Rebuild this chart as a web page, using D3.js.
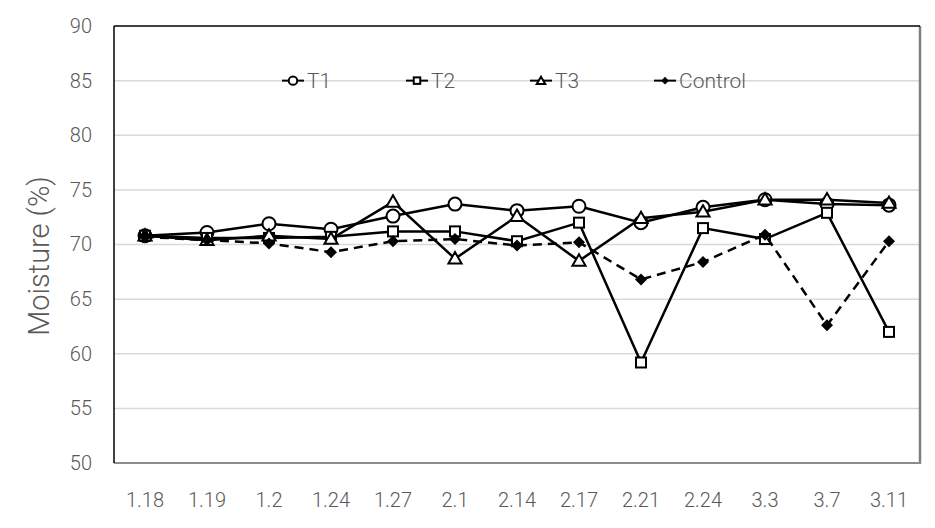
<!DOCTYPE html>
<html><head><meta charset="utf-8">
<script src="https://cdn.jsdelivr.net/npm/d3@7"></script>
<style>body{margin:0;background:#fff}svg text{font-family:Roboto,"Noto Sans",sans-serif;font-weight:300;fill:#595959}</style>
</head><body><svg id="c" width="935" height="528"></svg>
<script>
const categories=["1.18","1.19","1.2","1.24","1.27","2.1","2.14","2.17","2.21","2.24","3.3","3.7","3.11"];
const T1=[70.8,71.1,71.9,71.4,72.6,73.7,73.1,73.5,72.0,73.4,74.1,73.7,73.6];
const T2=[70.8,70.6,70.6,70.7,71.2,71.2,70.3,72.0,59.2,71.5,70.5,72.9,62.0];
const T3=[70.8,70.4,70.8,70.5,73.9,68.7,72.6,68.5,72.4,73.0,74.1,74.1,73.8];
const Control=[70.7,70.4,70.1,69.3,70.3,70.5,69.9,70.2,66.8,68.4,70.9,62.6,70.3];
const yTicks=[50,55,60,65,70,75,80,85,90];
const seriesNames=["T1","T2","T3","Control"];
const seriesData=[T1,T2,T3,Control];

const svg=d3.select("#c");
const L=114,R=920,T=26,B=463;
const x=d3.scaleBand().domain(categories).range([L,R]);
const xc=c=>x(c)+x.bandwidth()/2;
const y=d3.scaleLinear().domain([50,90]).range([B,T]);

svg.append("g").selectAll("line").data(yTicks.filter(t=>t>50&&t<90)).join("line")
 .attr("x1",L).attr("x2",R).attr("y1",d=>y(d)).attr("y2",d=>y(d))
 .attr("stroke","#d9d9d9").attr("stroke-width",1.5);
svg.append("line").attr("x1",R).attr("x2",R).attr("y1",T).attr("y2",B+1).attr("stroke","#7f7f7f").attr("stroke-width",2.5);
svg.append("line").attr("x1",L).attr("x2",R+1).attr("y1",B).attr("y2",B).attr("stroke","#8c8c8c").attr("stroke-width",2);
svg.append("line").attr("x1",L).attr("x2",R).attr("y1",T).attr("y2",T).attr("stroke","#000").attr("stroke-width",1.5);
svg.append("line").attr("x1",L).attr("x2",L).attr("y1",T).attr("y2",B).attr("stroke","#000").attr("stroke-width",1.5);

const ya=svg.append("g").attr("transform",`translate(${L},0)`).call(d3.axisLeft(y).tickValues(yTicks).tickSize(0).tickPadding(22));
ya.select(".domain").remove();
ya.selectAll("text").style("font-size","20px").style("font-family","Roboto").attr("fill","#595959");
const xa=svg.append("g").attr("transform",`translate(0,${B})`).call(d3.axisBottom(x).tickSize(0).tickPadding(30));
xa.select(".domain").remove();
xa.selectAll("text").style("font-size","20px").style("font-family","Roboto").attr("fill","#595959");

svg.append("text").attr("transform","translate(49,256) rotate(-90)").attr("text-anchor","middle")
 .style("font-size","29px").text("Moisture (%)");

function marker(g,i,px,py,s){
  if(i===0) g.append("circle").attr("cx",px).attr("cy",py).attr("r",6.5*s).attr("fill","#fff").attr("stroke","#000").attr("stroke-width",2);
  else if(i===1) g.append("rect").attr("x",px-5*s).attr("y",py-5*s).attr("width",10*s).attr("height",10*s).attr("fill","#fff").attr("stroke","#000").attr("stroke-width",2);
  else if(i===2) g.append("path").attr("d",d3.symbol(d3.symbolTriangle,75*s*s)()).attr("transform",`translate(${px},${py+1})`).attr("fill","#fff").attr("stroke","#000").attr("stroke-width",2);
  else { const h=6*s; g.append("path").attr("d",`M${px},${py-h}L${px+h},${py}L${px},${py+h}L${px-h},${py}Z`).attr("fill","#000"); }
}

const line=d3.line().x((d,i)=>xc(categories[i])).y(d=>y(d));
seriesData.forEach((vals,i)=>{
  const g=svg.append("g");
  g.append("path").attr("d",line(vals)).attr("fill","none").attr("stroke","#000").attr("stroke-width",2.5)
   .attr("stroke-dasharray",i===3?"9,6":null);
  vals.forEach((v,j)=>marker(g,i,xc(categories[j]),y(v),1));
});

const legX=[282,406,530,654];
const ly=y(85);
seriesNames.forEach((n,i)=>{
  const g=svg.append("g");
  g.append("line").attr("x1",legX[i]).attr("x2",legX[i]+22).attr("y1",ly).attr("y2",ly).attr("stroke","#000").attr("stroke-width",2);
  marker(g,i,legX[i]+11,ly,0.65);
  g.append("text").attr("x",legX[i]+25).attr("y",ly).attr("dy","0.36em").style("font-size","21px").text(n);
});
</script></body></html>
